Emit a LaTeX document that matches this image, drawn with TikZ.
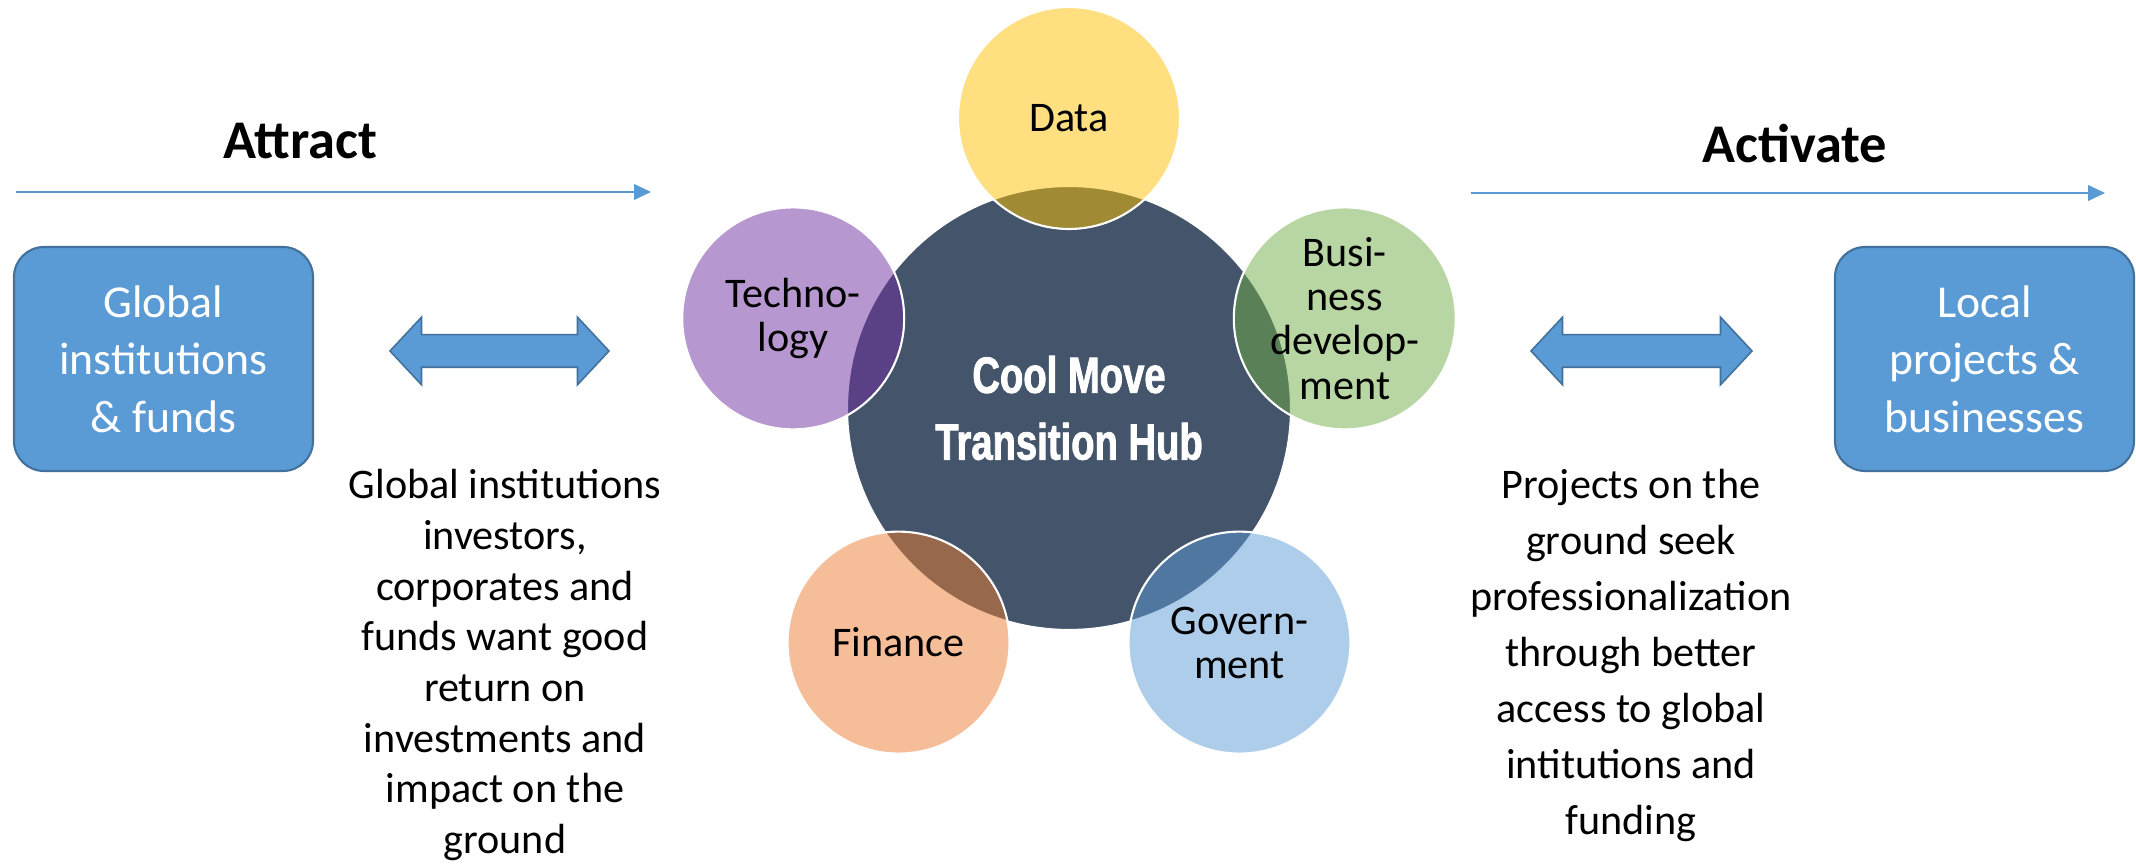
\documentclass[tikz,border=0pt]{standalone}
\usepackage{fontspec}
\setmainfont{Carlito}
\newfontfamily\hubfont[FakeStretch=0.75,FakeBold=1.6]{Liberation Sans}
\usetikzlibrary{shapes.arrows,arrows.meta,calc}
\definecolor{boxblue}{HTML}{5B9BD5}
\definecolor{boxedge}{HTML}{41719C}
\definecolor{hubgray}{HTML}{44546A}
\definecolor{cmgold}{HTML}{FFC000}
\definecolor{cmpurple}{HTML}{7030A0}
\definecolor{cmgreen}{HTML}{70AD47}
\definecolor{cmorange}{HTML}{ED7D31}
\definecolor{cmblue}{HTML}{5B9BD5}
\begin{document}
\begin{tikzpicture}[
    every node/.style={inner sep=0pt},
    heading/.style={anchor=base, font=\bfseries\fontsize{15.5}{18}\selectfont},
    flow/.style={draw=boxblue, line width=0.6pt, -{Triangle[length=4.8pt,width=4.4pt]}},
    infobox/.style={draw=boxedge, line width=0.6pt, fill=boxblue, rounded corners=0.3cm,
      minimum width=2.99cm, minimum height=2.24cm, text=white, align=center,
      font=\fontsize{13}{16.4}\selectfont},
    swap/.style={double arrow, draw=boxedge, line width=0.45pt, fill=boxblue,
      minimum height=2.19cm, minimum width=0.66cm, inner ysep=0.155cm, inner xsep=0pt,
      double arrow head extend=0.175cm, double arrow tip angle=94},
    hub/.style={circle, fill=hubgray, draw=white, line width=0.6pt, minimum size=4.44cm,
      text=white, align=center, font=\hubfont\bfseries\fontsize{14.5}{19}\selectfont},
    spoke/.style={circle, draw=white, line width=0.6pt, minimum size=2.22cm, fill opacity=0.5},
    spoketext/.style={align=center, font=\fontsize{12}{12.6}\selectfont},
    note/.style={align=center, anchor=north, font=\fontsize{12}{14.4}\selectfont}
  ]
  \useasboundingbox (0,0) rectangle (21.36,-8.64);

  % attract / activate headings
  \node[heading] (attract) at (3.00,-1.59) {Attract};
  \node[heading] (activate) at (17.95,-1.63) {Activate};
  \coordinate (attract start) at (0.16,-1.92);
  \coordinate (attract end) at (6.51,-1.92);
  \coordinate (activate start) at (14.71,-1.93);
  \coordinate (activate end) at (21.05,-1.93);
  \draw[flow] (attract start) -- (attract end);
  \draw[flow] (activate start) -- (activate end);

  \node[infobox] (global) at (1.635,-3.59) {Global\\institutions\\\& funds};
  \node[infobox] (local) at (19.845,-3.59) {Local\\projects \&\\businesses};
  \node[swap] (left swap) at (4.995,-3.51) {};
  \node[swap, minimum height=2.21cm] (right swap) at (16.415,-3.51) {};

  % hub and its five circles
  \node[hub] (hub) at (10.69,-4.08) {Cool Move\\Transition Hub};
  \foreach \name/\ang/\col/\txt in {data/90/cmgold/Data, tech/162/cmpurple/{Techno-\\logy},
      fin/234/cmorange/Finance, gov/306/cmblue/{Govern-\\ment},
      biz/18/cmgreen/{Busi-\\ness\\develop-\\ment}} {
    \node[spoke, fill=\col] (\name) at ($(hub)+(\ang:2.9)$) {};
    \node[spoketext] (\name text) at (\name) {\txt};
  }

  \node[note] (ask) at (5.05,-4.69) {Global institutions\\investors,\\corporates and\\funds want good\\return on\\investments and\\impact on the\\ground};
  \node[note, font=\fontsize{12}{15.9}\selectfont] (seek) at (16.31,-4.69) {Projects on the\\ground seek\\professionalization\\through better\\access to global\\intitutions and\\funding};
\end{tikzpicture}
\end{document}
